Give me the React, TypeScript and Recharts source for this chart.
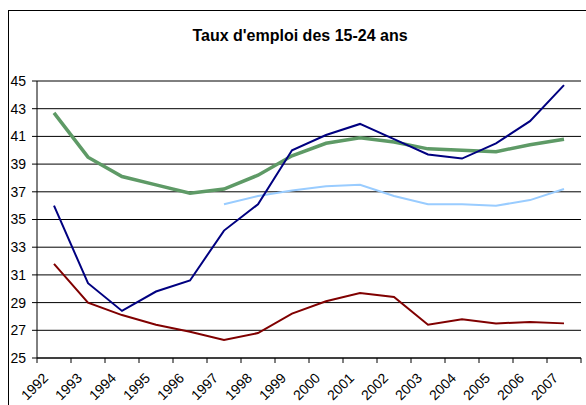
import React from 'react';
import { LineChart, Line, XAxis, YAxis, CartesianGrid } from 'recharts';

const years = [1992, 1993, 1994, 1995, 1996, 1997, 1998, 1999, 2000, 2001, 2002, 2003, 2004, 2005, 2006, 2007];
const navySeries = [36.0, 30.4, 28.4, 29.8, 30.6, 34.2, 36.1, 40.0, 41.1, 41.9, 40.8, 39.7, 39.4, 40.5, 42.1, 44.7];
const greenSeries = [42.7, 39.5, 38.1, 37.5, 36.9, 37.2, 38.2, 39.6, 40.5, 40.9, 40.6, 40.1, 40.0, 39.9, 40.4, 40.8];
const lightBlueSeries = [null, null, null, null, null, 36.1, 36.7, 37.1, 37.4, 37.5, 36.7, 36.1, 36.1, 36.0, 36.4, 37.2];
const redSeries = [31.8, 29.0, 28.1, 27.4, 26.9, 26.3, 26.8, 28.2, 29.1, 29.7, 29.4, 27.4, 27.8, 27.5, 27.6, 27.5];
const yTicks = [25, 27, 29, 31, 33, 35, 37, 39, 41, 43, 45];
const title = "Taux d'emploi des 15-24 ans";

const data = years.map((y, i) => ({
  year: y,
  navy: navySeries[i],
  green: greenSeries[i],
  light: lightBlueSeries[i],
  red: redSeries[i],
}));

const xTicks: number[] = [];
years.forEach((y) => {
  xTicks.push(y - 0.5);
  xTicks.push(y);
});
xTicks.push(years[years.length - 1] + 0.5);

const FONT = '"Liberation Sans", Arial, sans-serif';

const XTick = (props: any) => {
  const { x, y, payload } = props;
  const v = payload.value;
  if (!Number.isInteger(v)) {
    return <line x1={x} y1={y} x2={x} y2={y + 5} stroke="#000" strokeWidth={1} />;
  }
  const tx = x - 5;
  const ty = y + 21;
  return (
    <text x={tx} y={ty} transform={`rotate(-45, ${tx}, ${ty})`} textAnchor="end" fontSize={14} fill="#000" fontFamily={FONT}>
      {v}
    </text>
  );
};

export default function App() {
  return (
    <div style={{ position: 'absolute', left: 0, top: 0, width: 586, height: 405, overflow: 'hidden', background: '#fff', fontFamily: FONT }}>
      <div style={{ position: 'absolute', left: 8, top: 10, width: 700, height: 500, borderLeft: '1px solid #000', borderTop: '1px solid #000' }} />
      <div style={{ position: 'absolute', left: 100, top: 27.5, width: 400, textAlign: 'center', fontSize: 16, lineHeight: '16px', fontWeight: 'bold', color: '#000' }}>
        {title}
      </div>
      <div style={{ position: 'absolute', left: 0, top: 0 }}>
        <LineChart width={586} height={405} data={data} margin={{ top: 81, right: 5, bottom: 0, left: 0 }}>
          <CartesianGrid vertical={false} stroke="#000" strokeWidth={1} />
          <XAxis
            dataKey="year"
            type="number"
            domain={[years[0] - 0.5, years[years.length - 1] + 0.5]}
            ticks={xTicks}
            interval={0}
            allowDecimals
            tick={<XTick />}
            tickLine={false}
            tickSize={0}
            tickMargin={0}
            height={47}
            axisLine={{ stroke: '#000', strokeWidth: 1 }}
          />
          <XAxis
            xAxisId="top"
            orientation="top"
            type="number"
            domain={[years[0] - 0.5, years[years.length - 1] + 0.5]}
            tick={false}
            tickLine={false}
            height={0}
            axisLine={{ stroke: '#808080', strokeWidth: 1 }}
          />
          <YAxis
            type="number"
            domain={[25, 45]}
            ticks={yTicks}
            interval={0}
            width={37}
            tickSize={5}
            tickMargin={6}
            tick={{ fontSize: 14, fill: '#000', fontFamily: FONT }}
            tickLine={{ stroke: '#000' }}
            axisLine={{ stroke: '#000', strokeWidth: 1 }}
          />
          <YAxis
            yAxisId="right"
            orientation="right"
            type="number"
            domain={[25, 45]}
            width={0}
            tick={false}
            tickLine={false}
            axisLine={{ stroke: '#808080', strokeWidth: 1 }}
          />
          <Line type="linear" dataKey="green" stroke="#5E9A66" strokeWidth={3.5} dot={false} isAnimationActive={false} />
          <Line type="linear" dataKey="light" stroke="#99CCFF" strokeWidth={2} dot={false} isAnimationActive={false} connectNulls={false} />
          <Line type="linear" dataKey="navy" stroke="#000080" strokeWidth={2} dot={false} isAnimationActive={false} />
          <Line type="linear" dataKey="red" stroke="#800000" strokeWidth={2} dot={false} isAnimationActive={false} />
        </LineChart>
      </div>
    </div>
  );
}
